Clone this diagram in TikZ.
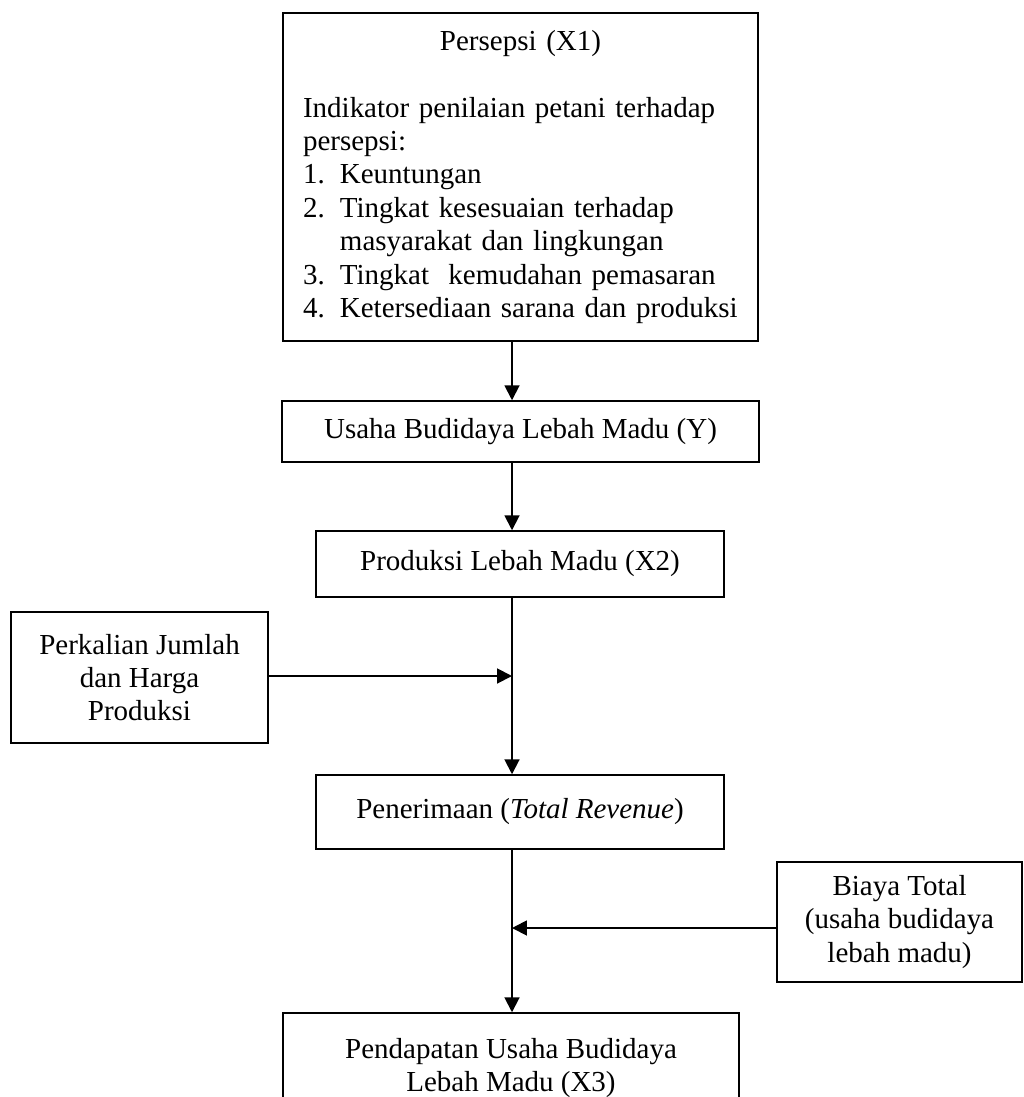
\documentclass[tikz,border=0pt]{standalone}
\usepackage{fontspec}
\setmainfont{Liberation Serif}
\usepackage{tikz}
\usetikzlibrary{shapes,arrows,arrows.meta}
\tikzstyle{kotak}=[draw, line width=0.85pt, text centered, align=center,
    inner sep=0pt, font=\fontsize{16.5}{19}\selectfont]
\tikzstyle{daftar}=[kotak, align=left, text width=8.7cm, inner xsep=0.4cm]
\tikzstyle{panah}=[-{Triangle[width=8.5pt,length=8.5pt]}, line width=1.1pt]
\newcommand{\butir}[2]{\par\noindent\hangindent=21pt\hangafter=1\makebox[21pt][l]{#1}#2\par}

\begin{document}
\begin{tikzpicture}[x=0.02cm, y=-0.02cm]
\useasboundingbox (0,0) rectangle (1023,1097);
% Persepsi
\path (520.5,177) node [daftar, minimum height=6.56cm] (persepsi) {%
\centerline{Persepsi (X1)}
\vskip\baselineskip
Indikator penilaian petani terhadap\\ persepsi:\par
\butir{1.}{Keuntungan}
\butir{2.}{Tingkat kesesuaian terhadap\hfill\break masyarakat dan lingkungan}
\butir{3.}{Tingkat~ kemudahan pemasaran}
\butir{4.}{Ketersediaan sarana dan produksi}};
% Usaha budidaya
\path (520.5,431.5) node [kotak, minimum width=9.54cm, minimum height=1.22cm] (usaha) {Usaha Budidaya Lebah Madu (Y)};
% Produksi
\path (520,564) node [kotak, minimum width=8.16cm, minimum height=1.32cm] (produksi) {Produksi Lebah Madu (X2)};
% Perkalian
\path (139.5,677.5) node [kotak, minimum width=5.14cm, minimum height=2.62cm] (perkalian) {Perkalian Jumlah\\ dan Harga\\ Produksi};
% Penerimaan
\path (520,812) node [kotak, minimum width=8.16cm, minimum height=1.48cm] (penerimaan) {Penerimaan (\textit{Total Revenue})};
% Biaya
\path (899.5,922) node [kotak, minimum width=4.9cm, minimum height=2.4cm] (biaya) {Biaya Total\\ (usaha budidaya\\ lebah madu)};
% Pendapatan
\path (511,1068) node [kotak, minimum width=9.12cm, minimum height=2.2cm] (pendapatan) {Pendapatan Usaha Budidaya\\ Lebah Madu (X3)};
% arrows
\coordinate (jalur) at (512,0);
\coordinate (temu1) at (512,676);
\coordinate (temu2) at (512,928);
\draw [panah] (persepsi.south -| jalur) -- (usaha.north -| jalur);
\draw [panah] (usaha.south -| jalur) -- (produksi.north -| jalur);
\draw [panah] (produksi.south -| jalur) -- (penerimaan.north -| jalur);
\draw [panah] (penerimaan.south -| jalur) -- (pendapatan.north -| jalur);
\draw [panah] (perkalian.east |- temu1) -- (temu1);
\draw [panah] (biaya.west |- temu2) -- (temu2);
\end{tikzpicture}
\end{document}
